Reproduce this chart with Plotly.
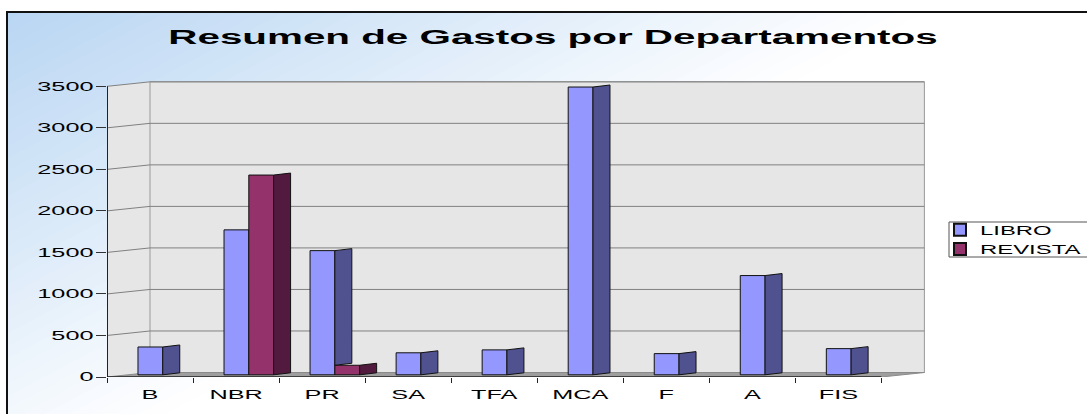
import plotly.graph_objects as go

# ---------------- data ----------------
categories = ["B", "NBR", "PR", "SA", "TFA", "MCA", "F", "A", "FIS"]
libro = [335, 1745, 1495, 265, 300, 3465, 255, 1195, 315]
revista = [None, 2405, 115, None, None, None, None, None, None]
series_names = ["LIBRO", "REVISTA"]
y_ticks = [0, 500, 1000, 1500, 2000, 2500, 3000, 3500]
title_text = "Resumen de Gastos por Departamentos"

# ---------------- layout geometry ----------------
W, H = 1087, 414
L, R, T, B = 107, 160, 81, 37
pw, ph = W - L - R, H - T - B
x_lo, x_hi = -0.5, 9.03
y_hi = 3564
ux = pw / (x_hi - x_lo)          # px per category
uy = ph / y_hi                   # px per value unit
dx = 43 / ux                     # 3D depth offset (category units)
dy = 4.5 / uy                    # 3D depth offset (value units)
x_back_right = len(categories) - 0.5 + dx
wall_top = y_ticks[-1] + dy

front_w = 0.288
off_l, off_r = -0.14, -0.14 + front_w
side_w = 17 / ux
rise = 2 / uy
bar_base = 2.2 / uy

C_LIBRO, C_LIBRO_SIDE = "#9497fd", "#505290"
C_REV, C_REV_SIDE = "#94326c", "#521a3e"
WALL = "#e6e6e6"


def px2paper_x(px):
    return (px - L) / pw


def px2paper_y(py):
    return (H - B - py) / ph


fig = go.Figure()

# side faces (darker parallelograms) built from the data values
def side_trace(vals, x_off, bottoms, color):
    xs, ys = [], []
    for i, v in enumerate(vals):
        if v is None:
            continue
        b0 = bottoms[i]
        if b0 is None:
            b0 = bar_base
        if b0 >= bar_base + v:
            continue
        x0 = i + x_off
        xs += [x0, x0, x0 + side_w, x0 + side_w, x0, None]
        ys += [b0, bar_base + v, bar_base + v + rise, b0 + rise, b0, None]
    return go.Scatter(x=xs, y=ys, mode="lines", fill="toself", fillcolor=color,
                      line=dict(color="#111111", width=1), showlegend=False,
                      hoverinfo="skip")

libro_side_bottom = [None if r is None else bar_base + r for r in revista]
fig.add_trace(side_trace(libro, off_r, libro_side_bottom, C_LIBRO_SIDE))
fig.add_trace(side_trace(revista, off_r + front_w, [None] * len(revista), C_REV_SIDE))

xs = list(range(len(categories)))
fig.add_trace(go.Bar(x=xs, y=libro, base=bar_base, offset=off_l, width=front_w,
                     name=series_names[0], marker=dict(color=C_LIBRO, line=dict(color="#111111", width=1))))
fig.add_trace(go.Bar(x=xs, y=revista, base=bar_base, offset=off_r, width=front_w,
                     name=series_names[1], marker=dict(color=C_REV, line=dict(color="#111111", width=1))))

# ---------------- decorative shapes ----------------
shapes = []
# diagonal gradient background (light blue top-left -> white)
c_base = (182, 212, 242)
nb = 40
for k in range(nb):
    c0, c1 = k / nb, (k + 1) / nb + 0.003
    cm = (k + 0.5) / nb
    col = tuple(round(c + (255 - c) * cm) for c in c_base)
    pts = [(945 * (c0 + 0.04), -20), (945 * (c1 + 0.04), -20),
           (945 * (c1 - 0.88), 440), (945 * (c0 - 0.88), 440)]
    path = "M " + " L ".join(f"{px2paper_x(a):.5f},{px2paper_y(b):.5f}" for a, b in pts) + " Z"
    shapes.append(dict(type="path", path=path, xref="paper", yref="paper",
                       fillcolor=f"rgb{col}", line=dict(width=0), layer="below"))
# white outside the chart border
shapes.append(dict(type="rect", xref="paper", yref="paper", x0=px2paper_x(-5), x1=px2paper_x(W + 5),
                   y0=px2paper_y(12), y1=px2paper_y(-5), fillcolor="white", line=dict(width=0), layer="below"))
shapes.append(dict(type="rect", xref="paper", yref="paper", x0=px2paper_x(-5), x1=px2paper_x(7),
                   y0=px2paper_y(H + 5), y1=px2paper_y(-5), fillcolor="white", line=dict(width=0), layer="below"))
# chart border
shapes.append(dict(type="rect", xref="paper", yref="paper", x0=px2paper_x(7), x1=px2paper_x(W + 20),
                   y0=px2paper_y(H + 20), y1=px2paper_y(12), line=dict(color="#111111", width=2), layer="below"))
# legend box
shapes.append(dict(type="rect", xref="paper", yref="paper", x0=px2paper_x(949), x1=px2paper_x(W + 20),
                   y0=px2paper_y(257), y1=px2paper_y(222), fillcolor="white",
                   line=dict(color="#555555", width=1), layer="below"))
# left wall
shapes.append(dict(type="path", xref="x", yref="y", layer="below", fillcolor=WALL, line=dict(width=0),
                   path=f"M {x_lo},0 L {x_lo + dx},{dy} L {x_lo + dx},{wall_top} L {x_lo},{y_ticks[-1]} Z"))
# back wall
shapes.append(dict(type="rect", xref="x", yref="y", layer="below", fillcolor=WALL,
                   x0=x_lo + dx, x1=x_back_right, y0=dy, y1=wall_top,
                   line=dict(color="#9a9a9a", width=1)))
# wall gridlines
for v in y_ticks[1:]:
    shapes.append(dict(type="path", xref="x", yref="y", layer="below",
                       line=dict(color="#808080", width=1),
                       path=f"M {x_lo},{v} L {x_lo + dx},{v + dy} L {x_back_right},{v + dy}"))
# floor
shapes.append(dict(type="path", xref="x", yref="y", layer="below", fillcolor="#9e9e9e",
                   line=dict(color="#8a8a8a", width=1),
                   path=f"M {x_lo},0 L {len(categories) - 0.5},0 L {x_back_right},{dy} L {x_lo + dx},{dy} Z"))
# front floor edge and front value axis
shapes.append(dict(type="line", xref="x", yref="y", layer="below", x0=x_lo, x1=len(categories) - 0.5,
                   y0=0, y1=0, line=dict(color="#222222", width=1.5)))
shapes.append(dict(type="line", xref="x", yref="y", layer="below", x0=x_lo, x1=x_lo,
                   y0=0, y1=y_ticks[-1], line=dict(color="#222222", width=2)))

font_fam = "Liberation Sans, Arial, sans-serif"
fig.update_layout(
    width=W, height=H,
    margin=dict(l=L, r=R, t=T, b=B, pad=0),
    paper_bgcolor="white", plot_bgcolor="rgba(0,0,0,0)",
    barmode="overlay",
    shapes=shapes,
    title=dict(text=title_text, x=553 / W, xanchor="center", y=1 - 37 / H, yanchor="middle",
               xref="container", yref="container",
               font=dict(family=font_fam, size=19.5, color="black", weight="bold")),
    font=dict(family=font_fam, color="black"),
    showlegend=True,
    legend=dict(x=px2paper_x(940), xanchor="left", y=px2paper_y(215), yanchor="top",
                bgcolor="rgba(0,0,0,0)", borderwidth=0, font=dict(size=12.5, color="black"),
                tracegroupgap=0, itemsizing="constant"),
    hovermode=False,
)
fig.update_xaxes(range=[x_lo, x_hi], tickmode="array", tickvals=xs, ticktext=categories,
                 ticks="outside", ticklen=6, tickcolor="rgba(0,0,0,0)",
                 showgrid=False, zeroline=False, showline=False,
                 tickfont=dict(size=12.5, color="black"),
                 minor=dict(tickmode="array", tickvals=[i - 0.5 for i in range(len(categories) + 1)],
                            ticks="outside", ticklen=5, tickcolor="#222222", tickwidth=1, showgrid=False))
fig.update_yaxes(range=[0, y_hi], tickmode="array", tickvals=y_ticks, tickformat="d",
                 ticks="outside", ticklen=10, tickcolor="#333333", tickwidth=1,
                 showgrid=False, zeroline=False, showline=False,
                 tickfont=dict(size=12.5, color="black"))

post = """
document.documentElement.style.margin = '0';
document.body.style.margin = '0';
var gd = document.getElementById('{plot_id}');
function stretchTexts(){
  gd.querySelectorAll('g.legend [clip-path]').forEach(function(e){ e.removeAttribute('clip-path'); });
  gd.querySelectorAll('svg text').forEach(function(t){
    if (t.getAttribute('data-sx')) return;
    var w = t.getComputedTextLength();
    if (w > 0) {
      var k = 2.02;
      if (t.classList.contains('legendtext')) k = 1.91;
      if (t.classList.contains('gtitle')) k = 2.07;
      t.setAttribute('textLength', (w * k).toFixed(2));
      t.setAttribute('lengthAdjust', 'spacingAndGlyphs');
      t.setAttribute('data-sx', '1');
    }
  });
}
stretchTexts();
gd.on('plotly_afterplot', stretchTexts);
"""

fig.write_html("out.html", post_script=post,
               config={"displayModeBar": False, "staticPlot": True})
